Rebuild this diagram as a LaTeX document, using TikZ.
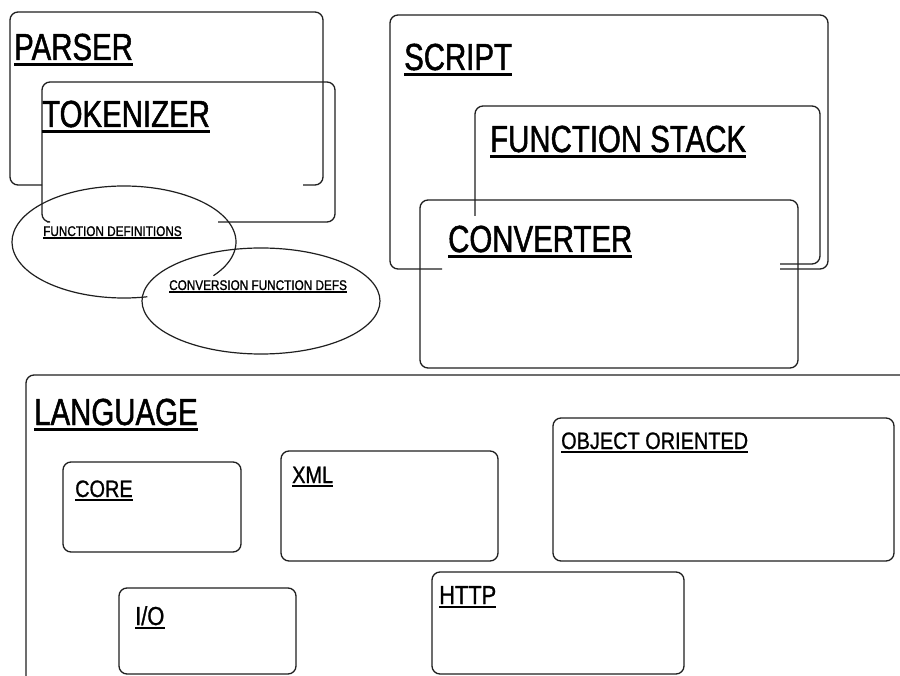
\documentclass[tikz,border=0pt]{standalone}
\usepackage{fontspec}
\newfontfamily\bigfam{Liberation Sans}[FakeStretch=0.78,FakeBold=1.3]
\newfontfamily\midfam{Liberation Sans}[FakeStretch=0.84,FakeBold=1.0]
\newfontfamily\smfam{Liberation Sans}[FakeStretch=0.84,FakeBold=1.2]
\newcommand{\bigsz}{\bigfam\fontsize{37.7}{40}\selectfont}
\newcommand{\midsz}{\midfam\fontsize{23.7}{26}\selectfont}
\newcommand{\iosz}{\midfam\fontsize{26}{28}\selectfont}
\newcommand{\smallsz}{\smfam\fontsize{14}{16}\selectfont}
\tikzset{
  box/.style={draw=black!88, line width=1.3pt, rounded corners=8pt},
  oval/.style={draw=black!88, line width=1.2pt},
  lbl/.style={inner sep=0pt, anchor=base west, text=black},
  ulbig/.style={line width=2.8pt, black},
  ulmid/.style={line width=2.2pt, black},
  ulsmall/.style={line width=1.5pt, black}
}
\begin{document}
\begin{tikzpicture}[x=1pt,y=-1pt]
\useasboundingbox (0,0) rectangle (900,676);
\fill[white] (0,0) rectangle (900,676);
\clip (0,0) rectangle (900,676);

% PARSER box
\draw[box] (42,185) -- (10,185) -- (10,12) -- (323,12) -- (323,185) -- (303,185);
% TOKENIZER box
\draw[box] (47,222) -- (42,222) -- (42,82) -- (335,82) -- (335,222) -- (218,222);
% ellipses
\coordinate (e1c) at (124,242);
\coordinate (e2c) at (261,301);
\draw[oval] (e1c) ++(-78:112pt and 56pt) arc[start angle=-78, end angle=-397, x radius=112pt, y radius=56pt];
\draw[oval] (e2c) ellipse [x radius=119pt, y radius=53pt];

% SCRIPT box
\draw[box] (442,269) -- (390,269) -- (390,15) -- (828,15) -- (828,269) -- (780,269);
% FUNCTION STACK box
\draw[box] (475,216) -- (475,106) -- (820,106) -- (820,264) -- (780,264);
% CONVERTER box
\draw[box] (420,200) rectangle (798,368);

% LANGUAGE box
\draw[box] (26,690) -- (26,375) -- (915,375);
% inner boxes
\draw[box] (63,462) rectangle (241,552);
\draw[box] (281,451) rectangle (498,561);
\draw[box] (553,418) rectangle (894,561);
\draw[box] (119,588) rectangle (296,674);
\draw[box] (432,572) rectangle (684,674);

% labels
\node[lbl] (parser) at (14,60) {\bigsz PARSER};
\node[lbl] (tok) at (42,127) {\bigsz TOKENIZER};
\node[lbl] (script) at (404,70) {\bigsz SCRIPT};
\node[lbl] (fstack) at (490,152) {\bigsz FUNCTION STACK};
\node[lbl] (conv) at (448,252) {\bigsz CONVERTER};
\node[lbl] (lang) at (34,425) {\bigsz LANGUAGE};
\foreach \n in {parser,tok,script,fstack,conv,lang}
  \draw[ulbig] ([yshift=-4.5pt]\n.base west) -- ([yshift=-4.5pt]\n.base east);

\node[lbl] (core) at (75,497) {\midsz CORE};
\node[lbl] (xml) at (292,483) {\midsz XML};
\node[lbl] (oo) at (561,449) {\midsz OBJECT ORIENTED};
\node[lbl] (io) at (135,625) {\iosz I/O};
\node[lbl] (http) at (439,604) {\iosz HTTP};
\foreach \n in {core,xml,oo,io,http}
  \draw[ulmid] ([yshift=-3pt]\n.base west) -- ([yshift=-3pt]\n.base east);

\node[lbl] (fdef) at (43,236) {\smallsz FUNCTION DEFINITIONS};
\node[lbl] (cdef) at (169,290) {\smallsz CONVERSION FUNCTION DEFS};
\foreach \n in {fdef,cdef}
  \draw[ulsmall] ([yshift=-2pt]\n.base west) -- ([yshift=-2pt]\n.base east);
\end{tikzpicture}
\end{document}
